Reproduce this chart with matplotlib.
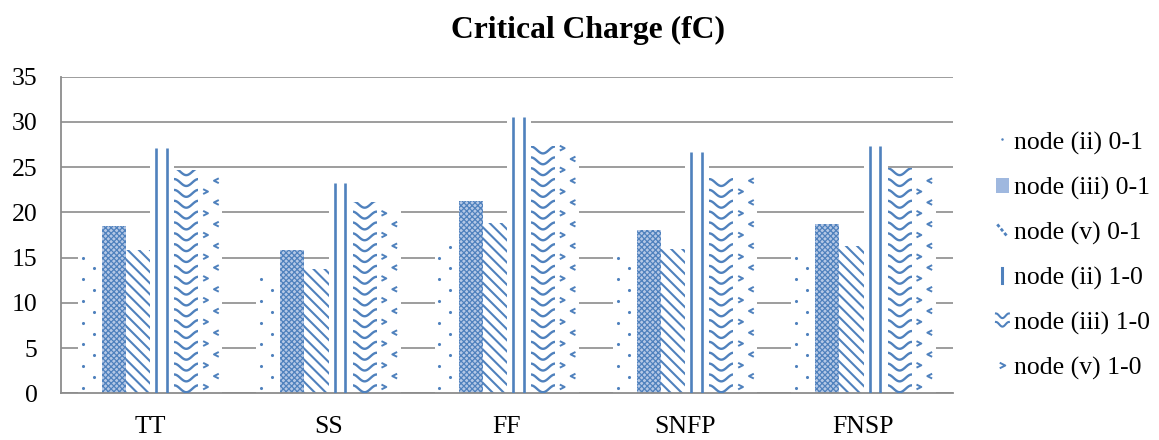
import numpy as np
import matplotlib
matplotlib.use('Agg')
import matplotlib.pyplot as plt
from matplotlib.patches import Patch, Rectangle
from matplotlib.lines import Line2D
from matplotlib.path import Path
from matplotlib.legend_handler import HandlerBase

# ---- data ----
categories = ['TT', 'SS', 'FF', 'SNFP', 'FNSP']
node_ii_01 = [15.3, 12.9, 17.6, 15.4, 15.3]
node_iii_01 = [18.5, 15.8, 21.3, 18.1, 18.7]
node_v_01 = [15.8, 13.7, 18.8, 16.0, 16.3]
node_ii_10 = [27.1, 23.2, 30.6, 26.7, 27.3]
node_iii_10 = [24.7, 21.1, 27.3, 23.8, 24.9]
node_v_10 = [24.4, 20.6, 27.3, 23.8, 24.3]
series_names = ['node (ii) 0-1', 'node (iii) 0-1', 'node (v) 0-1',
                'node (ii) 1-0', 'node (iii) 1-0', 'node (v) 1-0']
series = [node_ii_01, node_iii_01, node_v_01, node_ii_10, node_iii_10, node_v_10]
kinds = ['dots', 'checker', 'diag', 'vert', 'wave', 'arrow']
yticks = [0, 5, 10, 15, 20, 25, 30, 35]

BLUE = '#4f81bd'
CHECK = '#b5c8e6'
GRID = '#8c8c8c'

plt.rcParams['font.family'] = ['Liberation Serif', 'DejaVu Serif']
plt.rcParams['hatch.color'] = BLUE
plt.rcParams['hatch.linewidth'] = 1.5

CHEVRON_R = Path([(-1, 1), (1, 0), (-1, -1)], [Path.MOVETO, Path.LINETO, Path.LINETO])
CHEVRON_L = Path([(1, 1), (-1, 0), (1, -1)], [Path.MOVETO, Path.LINETO, Path.LINETO])


def draw_pattern(ax, rect, kind):
    x0 = rect.get_x()
    w = rect.get_width()
    h = rect.get_height()
    if kind == 'dots':
        pts = []
        for col, off in enumerate([0.2, 0.65]):
            y = 0.6 + col * 1.2
            while y < h - 0.2:
                pts.append((x0 + off * w, y))
                y += 2.4
        pts = np.array(pts)
        ax.scatter(pts[:, 0], pts[:, 1], s=5, color=BLUE, lw=0, zorder=3, clip_path=rect)
    elif kind == 'vert':
        ax.vlines([x0 + 0.25 * w, x0 + 0.7 * w], 0, h, color=BLUE, lw=1.9, zorder=3)
    elif kind == 'wave':
        xs = np.linspace(x0, x0 + w, 40)
        y = 0.5
        while y < h + 0.5:
            ln, = ax.plot(xs, y + 0.38 * np.sin(2 * np.pi * (xs - x0) / w + np.pi / 2),
                          color=BLUE, lw=1.7, zorder=3)
            ln.set_clip_path(rect)
            y += 1.2
    elif kind == 'arrow':
        for off, mk, start in [(0.3, CHEVRON_R, 0.7), (0.75, CHEVRON_L, 1.9)]:
            ys = np.arange(start, h - 0.2, 2.4)
            ax.scatter(np.full(len(ys), x0 + off * w), ys, marker=mk, s=12,
                       facecolors='none', edgecolors=BLUE, linewidths=1.4,
                       zorder=3, clip_path=rect)


class PatternHandler(HandlerBase):
    def __init__(self, kind):
        super().__init__()
        self.kind = kind

    def create_artists(self, legend, orig_handle, xdescent, ydescent,
                       width, height, fontsize, trans):
        x0, y0 = -xdescent, -ydescent
        arts = []
        if self.kind == 'dots':
            arts.append(Line2D([x0 + 0.5 * width], [y0 + 0.6 * height], ls='none',
                               marker='o', ms=1.8, color=BLUE, mec='none', transform=trans))
        elif self.kind == 'checker':
            arts.append(Rectangle((x0, y0), width, height, fc='#9fb8df', lw=0,
                                  transform=trans))
        elif self.kind == 'diag':
            arts.append(Line2D([x0 + 0.1 * width, x0 + 0.9 * width],
                               [y0 + 0.9 * height, y0 + 0.1 * height],
                               color=BLUE, lw=2.0, ls=(0, (1.2, 0.8)), transform=trans))
        elif self.kind == 'vert':
            arts.append(Line2D([x0 + 0.5 * width] * 2, [y0, y0 + height],
                               color=BLUE, lw=2.2, transform=trans))
        elif self.kind == 'wave':
            xs = np.linspace(x0, x0 + width, 20)
            for yy in [0.25, 0.8]:
                arts.append(Line2D(xs, y0 + height * (yy + 0.15 * np.cos(2 * np.pi * (xs - x0) / width)),
                                   color=BLUE, lw=1.5, transform=trans))
        elif self.kind == 'arrow':
            arts.append(Line2D([x0 + 0.5 * width], [y0 + 0.5 * height], ls='none',
                               marker=CHEVRON_R, ms=4, mfc='none', mec=BLUE, mew=1.4,
                               transform=trans))
        return arts


fig = plt.figure(figsize=(11.59, 4.40), dpi=100)
ax = fig.add_axes([61 / 1159, 1 - 393.3 / 440, (952.7 - 61) / 1159, (393.3 - 76.7) / 440])

x = np.arange(len(categories))
bw = 0.135
for k, (vals, kind) in enumerate(zip(series, kinds)):
    if kind == 'checker':
        plt.rcParams['hatch.linewidth'] = 0.9
        bars = ax.bar(x + (k - 2.5) * bw, vals, bw, color=CHECK, hatch='xxxxxx', lw=0, zorder=2)
        plt.rcParams['hatch.linewidth'] = 1.5
    elif kind == 'diag':
        bars = ax.bar(x + (k - 2.5) * bw, vals, bw, color='white', hatch='\\\\\\', lw=0, zorder=2)
    else:
        bars = ax.bar(x + (k - 2.5) * bw, vals, bw, color='white', lw=0, zorder=2)
        for rect in bars:
            draw_pattern(ax, rect, kind)

ax.set_xlim(-0.5, len(categories) - 0.5)
ax.set_ylim(0, 35)
ax.set_yticks(yticks)
ax.set_xticks(x)
ax.set_xticklabels(categories)
ax.yaxis.grid(True, color=GRID, lw=1.2, zorder=0)
ax.set_axisbelow(True)
for s in ['top', 'right']:
    ax.spines[s].set_visible(False)
for s in ['left', 'bottom']:
    ax.spines[s].set_color(GRID)
    ax.spines[s].set_linewidth(1.3)
ax.tick_params(axis='both', length=0, labelsize=18.5)
ax.tick_params(axis='x', pad=16)
ax.tick_params(axis='y', pad=17)

fig.text(588 / 1159, 1 - 30 / 440, 'Critical Charge (fC)', ha='center', va='center',
         fontsize=22.8, fontweight='bold')

handles = [Patch() for _ in kinds]
hmap = {h: PatternHandler(k) for h, k in zip(handles, kinds)}
fig.legend(handles, series_names, handler_map=hmap, loc='center left',
           bbox_to_anchor=(996 / 1159, 1 - 256 / 440), frameon=False,
           fontsize=18.5, handlelength=0.5, handleheight=0.55, handletextpad=0.2,
           labelspacing=0.85, borderpad=0, borderaxespad=0)

fig.savefig('out.png', dpi=100)
